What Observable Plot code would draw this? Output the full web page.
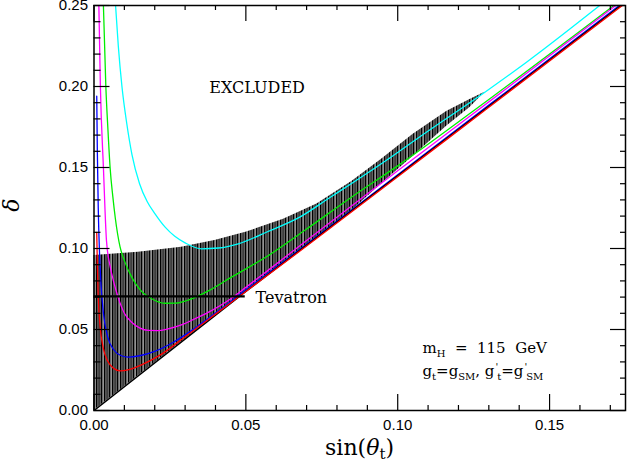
<!DOCTYPE html>
<html><head><meta charset="utf-8">
<script src="https://cdn.jsdelivr.net/npm/d3@7"></script>
<script src="https://cdn.jsdelivr.net/npm/@observablehq/plot@0.6"></script>
<style>body{margin:0;background:#fff;} svg{display:block;}</style>
</head><body><div id="chart"></div>
<script>
// ---- axis ticks ----
const xMajor = [0, 0.05, 0.10, 0.15];
const xTickLabels = ["0.00", "0.05", "0.10", "0.15"];
const xMinor = [0.01,0.02,0.03,0.04,0.06,0.07,0.08,0.09,0.11,0.12,0.13,0.14,0.16,0.17];
const yMajor = [0, 0.05, 0.10, 0.15, 0.20, 0.25];
const yTickLabels = ["0.00", "0.05", "0.10", "0.15", "0.20", "0.25"];
const yMinor = [0.01,0.02,0.03,0.04,0.06,0.07,0.08,0.09,0.11,0.12,0.13,0.14,0.16,0.17,0.18,0.19,0.21,0.22,0.23,0.24];

// ---- lower boundary (black diagonal) ----
const diagX = [0, 0.05, 0.1735];
const diagY = [0, 0.0735, 0.25];

// ---- hatched (excluded-by-data) band ----
const hatchX    = [0, 0.0146, 0.0288, 0.0398, 0.05, 0.0624, 0.0734, 0.085, 0.095, 0.1051, 0.1161, 0.1238, 0.1287];
const hatchLow  = [0, 0.0215, 0.0423, 0.0585, 0.0735, 0.0912, 0.1069, 0.1236, 0.1405, 0.1570, 0.1755, 0.1870, 0.1965];
const hatchHigh = [0.0957, 0.0977, 0.1008, 0.1050, 0.1100, 0.1180, 0.1275, 0.1415, 0.1555, 0.1705, 0.1845, 0.1920, 0.1965];

// ---- curves ----
const redX = [0.0009,0.0011,0.0014,0.0020,0.0030,0.0045,0.0065,0.0086,0.0115,0.0160,0.0220,0.0300,0.0400,0.0500,0.0700,0.1000,0.1300,0.1740];
const redY = [0.110,0.090,0.070,0.052,0.039,0.0305,0.0260,0.0245,0.0253,0.0285,0.0345,0.0455,0.0595,0.0735,0.1015,0.1443,0.1872,0.2500];
const blueX = [0.0009,0.0011,0.0014,0.0018,0.0023,0.0031,0.0045,0.0065,0.0090,0.0113,0.0150,0.0200,0.0260,0.0330,0.0420,0.0500,0.0600,0.0800,0.1000,0.1300,0.1740];
const blueY = [0.194,0.160,0.125,0.098,0.078,0.060,0.0455,0.0375,0.0338,0.0330,0.0338,0.0365,0.0420,0.0505,0.0630,0.0745,0.0885,0.1170,0.1455,0.1885,0.2515];
const magentaX = [0.0016,0.0021,0.0031,0.0041,0.0052,0.0064,0.0080,0.0100,0.0124,0.0150,0.0179,0.0210,0.0244,0.0290,0.0332,0.0390,0.0442,0.0500,0.0573,0.0700,0.0850,0.1000,0.1300,0.1725];
const magentaY = [0.250,0.200,0.150,0.105,0.090,0.080,0.0695,0.060,0.0545,0.0510,0.0494,0.0493,0.0504,0.0530,0.0566,0.0620,0.0679,0.0760,0.0865,0.1050,0.1265,0.1480,0.1905,0.2510];
const greenX = [0.0031,0.0039,0.0046,0.0053,0.0062,0.0070,0.0086,0.0100,0.0125,0.0152,0.0190,0.0233,0.0270,0.0306,0.0383,0.0450,0.0573,0.0700,0.0850,0.1000,0.1300,0.1712];
const greenY = [0.250,0.200,0.173,0.150,0.132,0.119,0.1008,0.0925,0.0820,0.0745,0.0690,0.0662,0.0663,0.0679,0.0745,0.0820,0.0955,0.1120,0.1320,0.1510,0.1920,0.2500];
const cyanX = [0.0071,0.0080,0.0092,0.0108,0.0125,0.0150,0.0175,0.0201,0.0235,0.0266,0.0300,0.0354,0.0410,0.0475,0.0573,0.0679,0.0777,0.0843,0.0975,0.1073,0.1287,0.1424,0.1665];
const cyanY = [0.250,0.225,0.200,0.177,0.158,0.140,0.129,0.1214,0.113,0.1075,0.1035,0.0998,0.1003,0.1029,0.1105,0.1195,0.1315,0.1395,0.1560,0.1690,0.1965,0.2150,0.2500];

// ---- Tevatron bound ----
const tevatronY = 0.0705;
const tevatronXEnd = 0.0498;

// ---- annotations ----
const excludedLabel = {x: 0.0537, y: 0.1990, text: "EXCLUDED"};
const tevatronLabel = {x: 0.0532, y: 0.0698, text: "Tevatron"};

const toRows = (xs, ys) => xs.map((x, i) => ({x, y: ys[i]}));
const hatchRows = hatchX.map((x, i) => ({x, low: hatchLow[i], high: hatchHigh[i]}));

const W = 627, H = 463, mL = 93.5, mR = 2, mT = 5, mB = 53;
const pw = W - mL - mR, ph = H - mT - mB;

const curveOpts = {x: "x", y: "y", curve: "monotone-x", strokeWidth: 1.3, clip: true};

const plot = Plot.plot({
  width: W, height: H,
  marginLeft: mL, marginRight: mR, marginTop: mT, marginBottom: mB,
  x: {domain: [0, 0.175]},
  y: {domain: [0, 0.25]},
  style: {fontFamily: "'Liberation Sans', Arial, sans-serif", fontSize: "15px", background: "#fff", color: "#000", overflow: "visible"},
  marks: [
    Plot.areaY(hatchRows, {x: "x", y1: "low", y2: "high", fill: "url(#hatch)"}),
    Plot.line(toRows(cyanX, cyanY), {...curveOpts, stroke: "#00ffff"}),
    Plot.line(toRows(greenX, greenY), {...curveOpts, stroke: "#00ee00"}),
    Plot.line(toRows(magentaX, magentaY), {...curveOpts, stroke: "#ff00ff"}),
    Plot.line(toRows(blueX, blueY), {...curveOpts, stroke: "#0000ff"}),
    Plot.line(toRows(diagX, diagY), {x: "x", y: "y", stroke: "#000", strokeWidth: 1.5, clip: true}),
    Plot.line(toRows(redX, redY), {...curveOpts, stroke: "#ff0000"}),
    Plot.ruleY([tevatronY], {x1: 0, x2: tevatronXEnd, stroke: "#000", strokeWidth: 2.2}),
    // inner ticks: bottom/top
    Plot.ruleX(xMinor, {insetTop: ph - 5, stroke: "#000", strokeWidth: 1.2}),
    Plot.ruleX(xMajor, {insetTop: ph - 16, stroke: "#000", strokeWidth: 1.2}),
    Plot.ruleX(xMinor, {insetBottom: ph - 5, stroke: "#000", strokeWidth: 1.2}),
    Plot.ruleX(xMajor, {insetBottom: ph - 16, stroke: "#000", strokeWidth: 1.2}),
    // inner ticks: left/right
    Plot.ruleY(yMinor, {insetRight: pw - 7, stroke: "#000", strokeWidth: 1.2}),
    Plot.ruleY(yMajor, {insetRight: pw - 16, stroke: "#000", strokeWidth: 1.2}),
    Plot.ruleY(yMinor, {insetLeft: pw - 5, stroke: "#000", strokeWidth: 1.2}),
    Plot.ruleY(yMajor, {insetLeft: pw - 15, stroke: "#000", strokeWidth: 1.2}),
    Plot.frame({stroke: "#000", strokeWidth: 1.5}),
    Plot.axisX(xMajor, {tickSize: 0, tickPadding: 9, tickFormat: (d, i) => xTickLabels[i], label: null, fontSize: 15}),
    Plot.axisY(yMajor, {tickSize: 0, tickPadding: 6, tickFormat: (d, i) => yTickLabels[i], label: null, fontSize: 15}),
    Plot.text([excludedLabel], {x: "x", y: "y", text: "text", fontFamily: "DejaVu Serif", fontSize: 16, fill: "#000"}),
    Plot.text([tevatronLabel], {x: "x", y: "y", text: "text", textAnchor: "start", fontFamily: "DejaVu Serif", fontSize: 16, fill: "#000"})
  ]
});

document.getElementById("chart").appendChild(plot);

const svg = d3.select(plot);
// hatch pattern of vertical lines
const defs = svg.insert("defs", ":first-child");
const pat = defs.append("pattern").attr("id", "hatch").attr("patternUnits", "userSpaceOnUse")
  .attr("width", 8).attr("height", 10);
pat.append("rect").attr("width", 8).attr("height", 10).attr("fill", "#7a7a7a");
[[0, 1.3, "#000"], [2.6, 0.9, "#000"], [4.8, 1.4, "#000"], [6.9, 0.6, "#a9a9a9"]].forEach(([x, w, c]) =>
  pat.append("rect").attr("x", x).attr("width", w).attr("height", 10).attr("fill", c));

const sx = plot.scale("x"), sy = plot.scale("y");
const serif = "'DejaVu Serif', serif";

// parameter annotation
const t1 = svg.append("text").attr("x", sx.apply(0.1083)).attr("y", sy.apply(0.0354))
  .attr("text-anchor", "start").style("white-space", "pre")
  .attr("font-family", serif).attr("font-size", 15).attr("fill", "#000");
t1.append("tspan").text("m");
t1.append("tspan").attr("font-size", 10).attr("dy", 4).text("H");
t1.append("tspan").attr("dy", -4).text("  =  115  GeV");

const t2 = svg.append("text").attr("x", sx.apply(0.1083)).attr("y", sy.apply(0.0210))
  .attr("text-anchor", "start").style("white-space", "pre")
  .attr("font-family", serif).attr("font-size", 15).attr("fill", "#000");
t2.append("tspan").text("g");
t2.append("tspan").attr("font-size", 10).attr("dy", 4).text("t");
t2.append("tspan").attr("dy", -4).text("=g");
t2.append("tspan").attr("font-size", 10).attr("dy", 4).text("SM");
t2.append("tspan").attr("dy", -4).text(", g");
t2.append("tspan").attr("font-size", 10).attr("dy", -6).attr("dx", 1).text("'");
t2.append("tspan").attr("font-size", 10).attr("dy", 10).attr("dx", -1).text("t");
t2.append("tspan").attr("dy", -4).text("=g");
t2.append("tspan").attr("font-size", 10).attr("dy", -6).attr("dx", 1).text("'");
t2.append("tspan").attr("font-size", 10).attr("dy", 10).attr("dx", -1).text("SM");

// x axis label
const xl = svg.append("text").attr("x", sx.apply(0.0876)).attr("y", sy.apply(0) + 45)
  .attr("text-anchor", "middle").attr("font-family", serif).attr("font-size", 22).attr("fill", "#000");
xl.append("tspan").text("sin(");
xl.append("tspan").attr("font-style", "italic").text("θ");
xl.append("tspan").attr("font-size", 15).attr("dy", 4).text("t");
xl.append("tspan").attr("dy", -4).text(")");

// y axis label
svg.append("text").attr("transform", `translate(19,${sy.apply(0.1265)}) rotate(-90)`)
  .attr("text-anchor", "middle").attr("font-family", serif).attr("font-style", "italic")
  .attr("font-size", 22).attr("fill", "#000").text("δ");
</script></body></html>
